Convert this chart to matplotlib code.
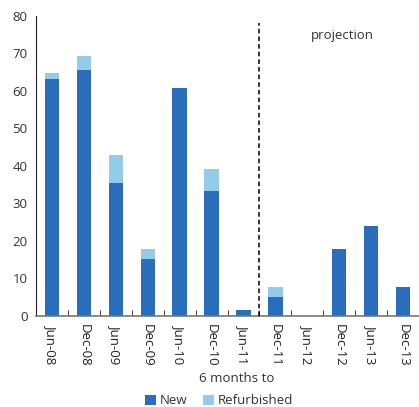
import matplotlib
matplotlib.use("Agg")
import matplotlib.pyplot as plt
import numpy as np

categories = ["Jun-08", "Dec-08", "Jun-09", "Dec-09", "Jun-10", "Dec-10",
              "Jun-11", "Dec-11", "Jun-12", "Dec-12", "Jun-13", "Dec-13"]
new = [63.2, 65.5, 35.4, 15.1, 60.7, 33.2, 1.5, 5.0, 0.0, 17.8, 23.9, 7.7]
refurbished = [1.4, 3.8, 7.5, 2.7, 0.0, 5.9, 0.0, 2.7, 0.0, 0.0, 0.0, 0.0]

plt.rcParams['font.family'] = ['Open Sans', 'DejaVu Sans']

fig = plt.figure(figsize=(4.19, 4.07), dpi=100)
ax = fig.add_axes([36/419, 91.3/407, 383/419, 300/407])

x = np.arange(len(categories))
c_new = "#2a6ebb"
c_ref = "#93cbe8"
ax.bar(x, new, width=0.45, color=c_new, label="New", zorder=2)
ax.bar(x, refurbished, width=0.45, bottom=new, color=c_ref, label="Refurbished", zorder=2)

ax.set_xlim(-0.5, len(categories) - 0.5)
ax.set_ylim(0, 80)
ax.set_yticks(range(0, 81, 10))
ax.tick_params(axis='y', length=0, labelsize=9.5, colors="#333333", pad=6)

ax.set_xticks(x)
ax.set_xticklabels(categories, rotation=270, fontsize=9.5, color="#222222")
ax.tick_params(axis='x', length=0, pad=6)
ax.set_xticks(np.arange(0.5, len(categories) - 0.5, 1), minor=True)
ax.tick_params(axis='x', which='minor', direction='in', length=4, color="#222222")

ax.vlines(6.5, 0, 78, colors="black", linestyles=(0, (3, 2)), linewidth=1.1, zorder=3)
ax.text(9.1, 74.6, "projection", ha='center', va='center', fontsize=9.5, color="#333333")

for s in ['top', 'right']:
    ax.spines[s].set_visible(False)
ax.spines['left'].set_color("#222222")
ax.spines['bottom'].set_color("#777777")
ax.spines['bottom'].set_linewidth(1.2)

fig.text(237/419, 1 - 379/407, "6 months to", ha='center', va='center',
         fontsize=9.5, color="#333333")

handles, labels = ax.get_legend_handles_labels()
fig.legend(handles, labels, loc='center', bbox_to_anchor=(219/419, 1 - 401/407), ncol=2,
           frameon=False, fontsize=9.5, handlelength=0.8, handleheight=0.8,
           handletextpad=0.3, columnspacing=1.2, labelcolor="#333333")

fig.savefig("out.png", dpi=100)
